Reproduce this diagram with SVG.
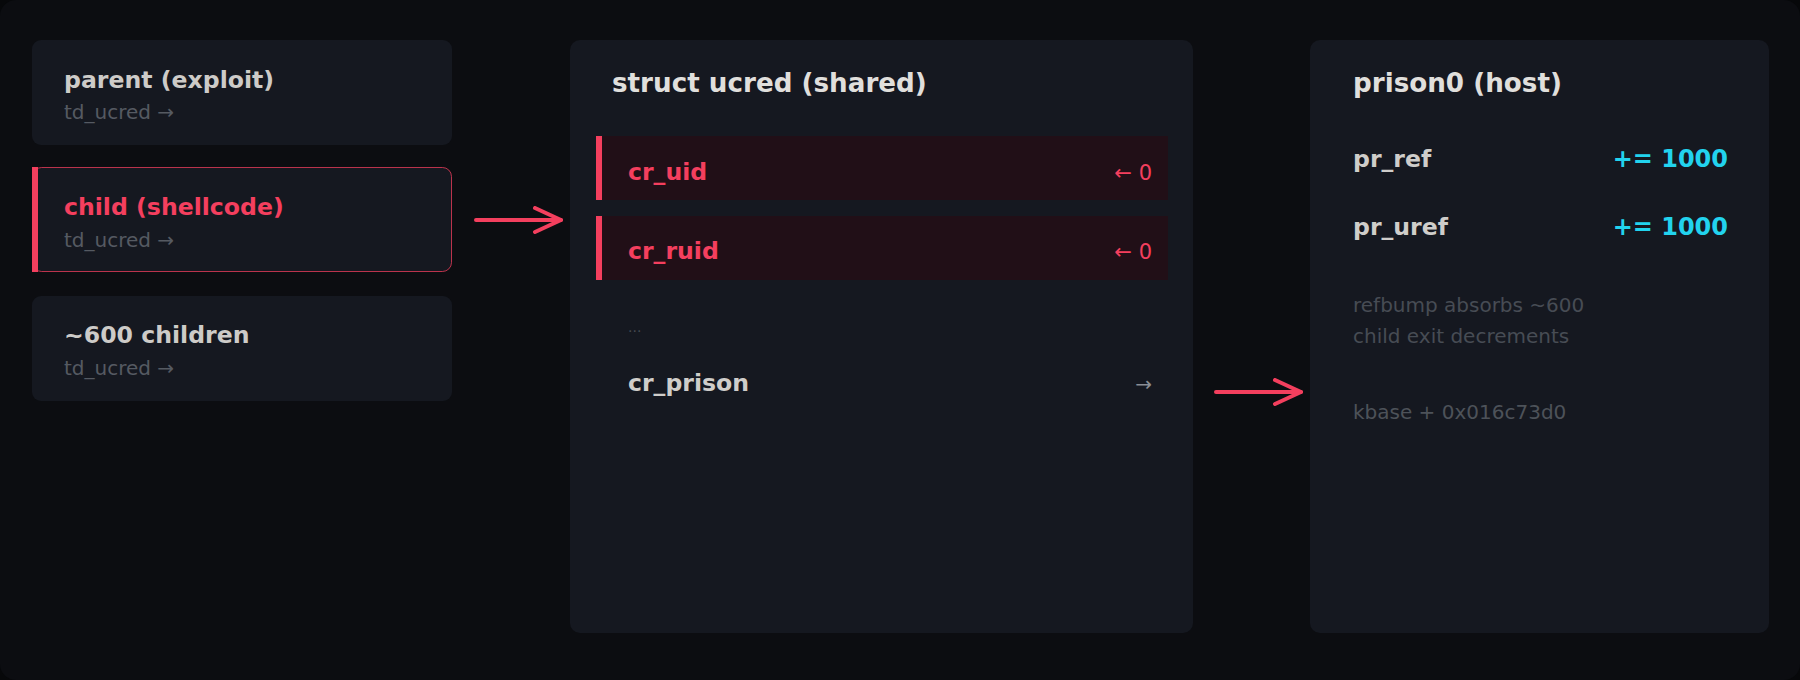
<svg xmlns="http://www.w3.org/2000/svg" width="1800" height="680" viewBox="0 0 1800 680">
  <defs>
    <style>
      .t { font-family: "DejaVu Sans", "Liberation Sans", sans-serif; }
      .box { fill: #151820; }
      .panel { fill: #151820; }
      .title { font-size: 23.6px; font-weight: bold; fill: #cdcbc8; }
      .ptitle { font-size: 26.2px; font-weight: bold; fill: #e0dfdc; }
      .sub { font-size: 20px; fill: #555a62; }
      .note { font-size: 20px; fill: #474c54; }
      .field { font-size: 23.6px; font-weight: bold; fill: #cfcdca; }
      .hot { fill: #f43f5e; }
      .rowbg { fill: #210f17; }
      .val { font-size: 24px; font-weight: bold; fill: #22d3ee; }
      .conn { stroke: #f43f5e; stroke-width: 4; stroke-linecap: round; fill: none; }
    </style>
    <marker id="arr" viewBox="0 0 32 28" refX="29" refY="14" markerWidth="32" markerHeight="28" markerUnits="userSpaceOnUse" orient="auto">
      <path d="M3,2 L29,14 L3,26" fill="none" stroke="#f43f5e" stroke-width="4" stroke-linecap="round" stroke-linejoin="round"/>
    </marker>
  </defs>

  <rect x="0" y="0" width="1800" height="680" fill="#07080a"/>
  <rect x="0" y="0" width="1800" height="680" rx="16" fill="#0c0d11"/>

  <g id="parent">
    <rect class="box" x="32" y="40" width="420" height="105" rx="9"/>
    <text class="t title" x="64" y="88">parent (exploit)</text>
    <text class="t sub" x="64" y="119">td_ucred →</text>
  </g>

  <g id="child">
    <rect class="box" x="32.5" y="167.5" width="419" height="104" rx="9" stroke="#f43f5e" stroke-opacity="0.75" stroke-width="1"/>
    <rect class="hot" x="32" y="167" width="6" height="105"/>
    <text class="t title" x="64" y="215" style="fill:#f43f5e">child (shellcode)</text>
    <text class="t sub" x="64" y="247">td_ucred →</text>
  </g>

  <g id="children">
    <rect class="box" x="32" y="296" width="420" height="105" rx="9"/>
    <text class="t title" x="64" y="343">~600 children</text>
    <text class="t sub" x="64" y="375">td_ucred →</text>
  </g>

  <g id="ucred">
    <rect class="panel" x="570" y="40" width="623" height="593" rx="10"/>
    <text class="t ptitle" x="612" y="92">struct ucred (shared)</text>
    <rect class="rowbg" x="596" y="136" width="572" height="64"/>
    <rect class="hot" x="596" y="136" width="6" height="64"/>
    <text class="t field" x="628" y="180" style="fill:#f43f5e">cr_uid</text>
    <text class="t" x="1152" y="180" font-size="21" text-anchor="end" fill="#f43f5e">← 0</text>
    <rect class="rowbg" x="596" y="216" width="572" height="64"/>
    <rect class="hot" x="596" y="216" width="6" height="64"/>
    <text class="t field" x="628" y="259" style="fill:#f43f5e">cr_ruid</text>
    <text class="t" x="1152" y="259" font-size="21" text-anchor="end" fill="#f43f5e">← 0</text>
    <text class="t" x="628" y="332" font-size="14" fill="#454a52">...</text>
    <text class="t field" x="628" y="391">cr_prison</text>
    <text class="t" x="1152" y="391" font-size="20" text-anchor="end" fill="#8a8e95">→</text>
  </g>

  <g id="prison0">
    <rect class="panel" x="1310" y="40" width="459" height="593" rx="10"/>
    <text class="t ptitle" x="1353" y="92">prison0 (host)</text>
    <text class="t field" x="1353" y="167">pr_ref</text>
    <text class="t val" x="1728" y="167" text-anchor="end">+= 1000</text>
    <text class="t field" x="1353" y="235">pr_uref</text>
    <text class="t val" x="1728" y="235" text-anchor="end">+= 1000</text>
    <text class="t note" x="1353" y="312">refbump absorbs ~600</text>
    <text class="t note" x="1353" y="343">child exit decrements</text>
    <text class="t note" x="1353" y="419" style="fill:#4d5259">kbase + 0x016c73d0</text>
  </g>

  <g id="connectors">
    <line class="conn" x1="476" y1="220" x2="561" y2="220" marker-end="url(#arr)"/>
    <line class="conn" x1="1216" y1="392" x2="1301" y2="392" marker-end="url(#arr)"/>
  </g>
</svg>
